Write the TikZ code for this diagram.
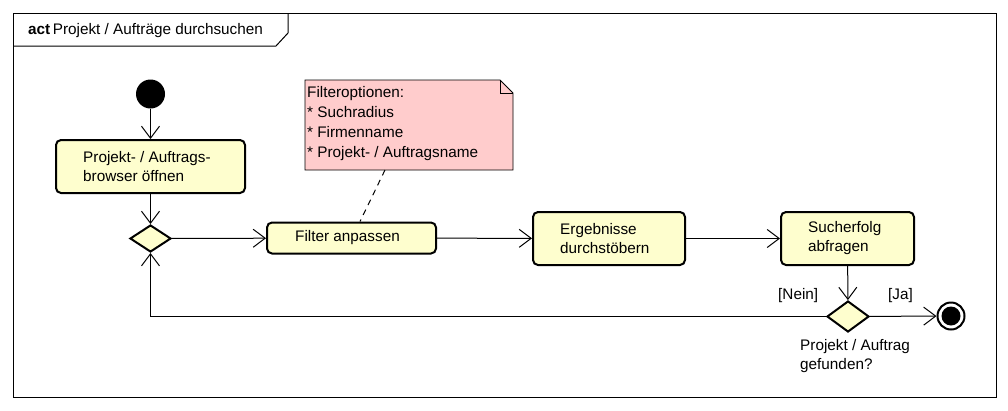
\documentclass[tikz,border=0pt]{standalone}
\usepackage{fontspec}
\setmainfont{Liberation Sans}
\usetikzlibrary{arrows.meta,shapes.geometric}
\definecolor{actfill}{HTML}{FEFECE}
\definecolor{notefill}{HTML}{FFCCCC}
\begin{document}
\begin{tikzpicture}[x=1pt,y=-1pt,
  font=\fontsize{15.3pt}{19pt}\selectfont,
  actbox/.style={draw, line width=2pt, rounded corners=5pt, fill=actfill, inner sep=0pt},
  lbl/.style={inner sep=0pt, align=left, anchor=west},
  decision/.style={draw, diamond, line width=2pt, fill=actfill, inner sep=0pt},
  conn/.style={line width=1pt, -{Straight Barb[length=12pt,width=18pt,line width=1pt]}},
  plain/.style={line width=1pt}
]
\useasboundingbox (0,0) rectangle (1008,410);
\fill[white] (0,0) rectangle (1008,410);
% frame
\draw[line width=1pt] (13,13) rectangle (996,397);
\draw[line width=1pt] (13,46) -- (276,46) -- (288,33) -- (288,13);
\node[lbl] (title) at (28,31) {\textbf{act}\,Projekt / Aufträge durchsuchen};

% start
\node[circle, fill=black, minimum size=29pt, inner sep=0pt] (start) at (150.5,94) {};
% actions
\node[actbox, minimum width=189pt, minimum height=53pt] (b1) at (150.5,166.5) {};
\node[lbl] (b1t) at (83,166.5) {Projekt- / Auftrags-\\browser öffnen};
\node[decision, minimum width=41pt, minimum height=27pt] (d1) at (150.5,238.5) {};
\node[actbox, minimum width=169pt, minimum height=31pt] (filt) at (351.5,238) {};
\node[lbl] (filtt) at (295,238) {Filter anpassen};
\node[actbox, minimum width=152pt, minimum height=53pt] (erg) at (609,238.5) {};
\node[lbl] (ergt) at (560,238.5) {Ergebnisse\\durchstöbern};
\node[actbox, minimum width=133pt, minimum height=53pt] (such) at (847.5,238.5) {};
\node[lbl] (sucht) at (808,238.5) {Sucherfolg\\abfragen};
\node[decision, minimum width=42pt, minimum height=31pt] (d2) at (848,316.5) {};
% end
\node[circle, draw, line width=2pt, fill=white, minimum size=27pt, inner sep=0pt] (end) at (951,316) {};
\node[circle, fill=black, minimum size=19pt, inner sep=0pt] (endin) at (end.center) {};

% note
\fill[notefill] (305,80) -- (500,80) -- (513,93) -- (513,170) -- (305,170) -- cycle;
\draw[line width=0.9pt] (305,80) -- (500,80) -- (513,93) -- (513,170) -- (305,170) -- cycle;
\draw[line width=0.9pt] (500,80) -- (500,93) -- (513,93);
\node[lbl, font=\fontsize{15.3pt}{20pt}\selectfont] (notet) at (307,124) {Filteroptionen:\\* Suchradius\\* Firmenname\\* Projekt- / Auftragsname};
\coordinate (noteb) at (385,170);
\draw[plain, dash pattern=on 6pt off 5pt] (noteb) -- (filt.north -| 360,0);

% connectors
\draw[conn] (start) -- (b1);
\draw[conn] (b1) -- (d1);
\draw[conn] (d1) -- (filt);
\draw[conn] (filt) -- (erg);
\draw[conn] (erg) -- (such);
\draw[conn] (such) -- (d2);
\draw[conn] (d2) -- (end);
\coordinate (loopc) at (150.5,316.5);
\draw[conn] (d2.west) -- (loopc) -- (d1.south);

% guards
\node[lbl] (nein) at (778,296) {[Nein]};
\node[lbl] (ja) at (888,296) {[Ja]};
\node[lbl] (d2t) at (800,356) {Projekt / Auftrag\\gefunden?};
\end{tikzpicture}
\end{document}
